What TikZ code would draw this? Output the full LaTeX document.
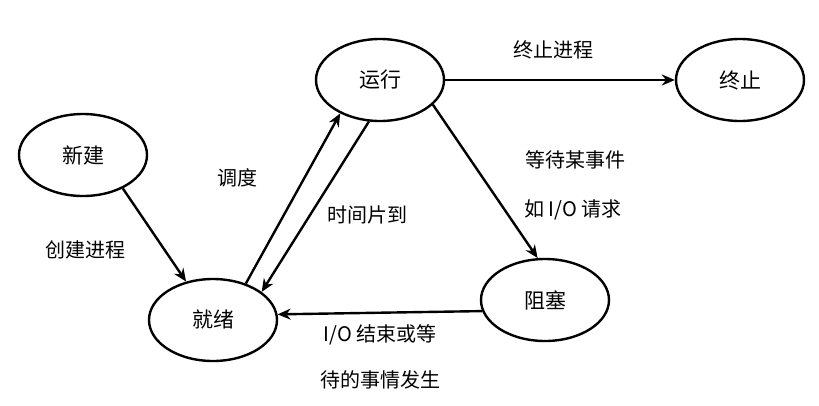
\documentclass[tikz,border=0pt]{standalone}
\usepackage{fontspec}
\setmainfont{Noto Sans CJK SC}
\usetikzlibrary{shapes.geometric,arrows.meta}
\begin{document}
\begin{tikzpicture}[x=1pt,y=-1pt,
  st/.style={draw,line width=2.4pt,ellipse,minimum width=128pt,minimum height=82pt,font=\fontsize{21}{24}\selectfont},
  lb/.style={font=\fontsize{20}{24}\selectfont},
  ar/.style={line width=2.4pt,-{Stealth[length=13pt,width=11pt]}}]
\useasboundingbox (0,0) rectangle (819,405);
\node[st] (new) at (83,155) {新建};
\node[st] (run) at (380,80) {运行};
\node[st] (end) at (740,80) {终止};
\node[st] (rdy) at (213,320) {就绪};
\node[st] (blk) at (545,300) {阻塞};
\draw[ar] (new.-40) -- (rdy.125);
\draw[ar] (rdy.48) -- (run.-140);
\draw[ar] (run.-105) -- (rdy.30);
\draw[ar] (run) -- (end);
\draw[ar] (run.-25) -- (blk.100);
\draw[ar] (blk.190) -- (rdy.5);
\node[lb] (l1) at (553,50) {终止进程};
\node[lb] (l2) at (575,160) {等待某事件};
\node[lb] (l3) at (573,210) {如 I/O 请求};
\node[lb] (l4) at (237,178) {调度};
\node[lb] (l5) at (367,215) {时间片到};
\node[lb] (l6) at (85,250) {创建进程};
\node[lb] (l7) at (380,335) {I/O 结束或等};
\node[lb] (l8) at (380,380) {待的事情发生};
\end{tikzpicture}
\end{document}
